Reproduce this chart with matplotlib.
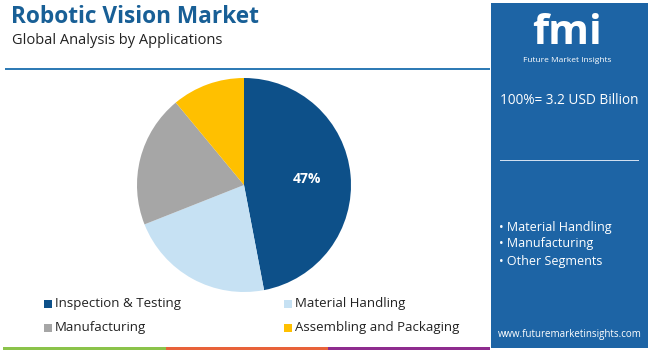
import matplotlib.pyplot as plt
from matplotlib.patches import Rectangle

# data
labels = ['Inspection & Testing', 'Material Handling', 'Manufacturing', 'Assembling and Packaging']
shares = [47, 22, 20, 11]
colors = ['#0d5089', '#c6e1f3', '#a6a6a6', '#ffc000']
panel_items = ['Material Handling', 'Manufacturing', 'Other Segments']
total_text = '100%= 3.2 USD Billion'

W, H = 650, 351
plt.rcParams['font.family'] = ['Open Sans', 'DejaVu Sans']
fig = plt.figure(figsize=(W / 100, H / 100), dpi=100)


def px(x, y):
    # pixel coords (top-left origin) -> figure fraction
    return x / W, 1 - y / H


def txt(x, y, s, **kw):
    fx, fy = px(x, y)
    fig.text(fx, fy, s, **kw)


def rect(x, y, w, h, color):
    fig.patches.append(Rectangle((x / W, 1 - (y + h) / H), w / W, h / H,
                                 transform=fig.transFigure, color=color, lw=0))


# title
txt(11, 17, 'Robotic Vision Market', fontsize=16.3, fontweight='bold', color='#185f96', va='center')
txt(12, 40, 'Global Analysis by Applications', fontsize=10.5, color='#222222', va='center')
rect(5, 68, 485, 1.5, '#2f7bb5')

# pie
cx, cy, r = 244, 185, 107
ax = fig.add_axes([(cx - r) / W, (H - cy - r) / H, 2 * r / W, 2 * r / H])
ax.pie(shares, colors=colors, startangle=90, counterclock=False,
       autopct=lambda p: '%d%%' % round(p) if p > 40 else '', pctdistance=0.59,
       textprops=dict(color='white', fontsize=10, fontweight='bold'),
       wedgeprops=dict(linewidth=0))
ax.set_xlim(-1, 1)
ax.set_ylim(-1, 1)
ax.set_aspect('equal')

# legend
leg_pos = [(44, 304), (284, 304), (44, 328), (284, 328)]
for (x, y), lab, c in zip(leg_pos, labels, colors):
    rect(x, y - 4, 8, 8, c)
    txt(x + 11, y, lab, fontsize=9.5, color='#222222', va='center')

# bottom strip
rect(3, 347, 163, 3, '#8bc34a')
rect(166, 347, 162, 3, '#e8623a')
rect(328, 347, 162, 3, '#8e2c8e')

# right panel
rect(491, 3, 157, 345, '#1d64a5')
txt(567, 33, 'fmi', fontsize=30, fontweight='bold', color='white', ha='center', va='center')
txt(567, 61, 'Future Market Insights', fontsize=6, color='white', ha='center', va='center')
txt(569, 101, total_text, fontsize=9.8, color='white', ha='center', va='center')
rect(500, 160, 139, 1, '#d0dff0')
for i, item in enumerate(panel_items):
    txt(499, 227 + i * 17, '\u2022 ' + item, fontsize=9, color='white', va='center')
txt(570, 335, 'www.futuremarketinsights.com', fontsize=7, color='white', ha='center', va='center')

fig.savefig('out.png', dpi=100)
